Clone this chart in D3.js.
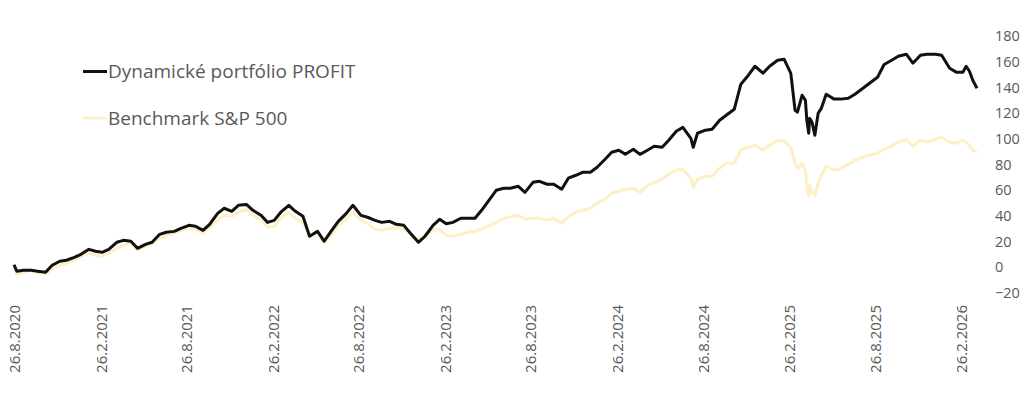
<!DOCTYPE html>
<html>
<head>
<meta charset="utf-8">
<script src="https://cdn.jsdelivr.net/npm/d3@7"></script>
<style>
  html, body { margin: 0; padding: 0; background: #ffffff; }
  svg { display: block; }
</style>
</head>
<body>
<svg id="chart" width="1024" height="407"></svg>
<script>
// ---- data ----
const seriesNames = ["Dynamické portfólio PROFIT", "Benchmark S&P 500"];

const dates = [
  "2020-08-26","2020-09-01","2020-09-15","2020-10-01","2020-10-15","2020-11-01","2020-11-15","2020-12-01","2020-12-15",
  "2021-01-01","2021-01-15","2021-02-01","2021-02-15","2021-03-01","2021-03-15","2021-04-01","2021-04-15","2021-05-01","2021-05-15","2021-06-01","2021-06-15",
  "2021-07-01","2021-07-15","2021-08-01","2021-08-15","2021-09-01","2021-09-15","2021-10-01","2021-10-15","2021-11-01","2021-11-15","2021-12-01","2021-12-15",
  "2022-01-01","2022-01-15","2022-02-01","2022-02-15","2022-03-01","2022-03-15","2022-04-01","2022-04-15","2022-05-01","2022-05-15","2022-06-01","2022-06-15",
  "2022-07-01","2022-07-15","2022-08-01","2022-08-15","2022-09-01","2022-09-15","2022-10-01","2022-10-15","2022-11-01","2022-11-15","2022-12-01","2022-12-15",
  "2023-01-01","2023-01-15","2023-02-01","2023-02-15","2023-03-01","2023-03-15","2023-04-01","2023-04-15","2023-05-01","2023-05-15","2023-06-01","2023-06-15",
  "2023-07-01","2023-07-15","2023-08-01","2023-08-15","2023-09-01","2023-09-15","2023-10-01","2023-10-15","2023-11-01","2023-11-15","2023-12-01","2023-12-15",
  "2024-01-01","2024-01-15","2024-02-01","2024-02-15","2024-03-01","2024-03-15","2024-04-01","2024-04-15","2024-05-01","2024-05-15","2024-06-01","2024-06-15",
  "2024-07-01","2024-07-15","2024-08-01","2024-08-06","2024-08-15","2024-09-01","2024-09-15","2024-10-01","2024-10-15","2024-11-01","2024-11-15","2024-12-01","2024-12-15",
  "2025-01-01","2025-01-15","2025-02-01","2025-02-15","2025-03-01","2025-03-10","2025-03-15","2025-03-25","2025-04-01","2025-04-04","2025-04-08","2025-04-10",
  "2025-04-15","2025-04-21","2025-04-28","2025-05-05","2025-05-15","2025-06-01","2025-06-15","2025-07-01","2025-07-15","2025-08-01","2025-08-15",
  "2025-09-01","2025-09-15","2025-10-01","2025-10-15","2025-11-01","2025-11-15","2025-12-01","2025-12-15",
  "2026-01-01","2026-01-15","2026-02-01","2026-02-15","2026-03-01","2026-03-08","2026-03-15","2026-03-22","2026-03-31"
];

const profit = [
  2, -3, -2.3, -2.3, -3.1, -3.9, 1.6, 4.7, 5.5,
  7.8, 10.1, 14, 12.5, 11.7, 14, 19.5, 21, 20.3, 14.8, 17.9, 19.5,
  25.7, 27.3, 28, 30.4, 32.7, 32, 28.8, 33.5, 42, 46, 43.6, 48.3,
  49, 44.4, 40.5, 35, 36.6, 42.9, 48.3, 43.6, 39.7, 24.2, 28, 20.3,
  28.8, 35.8, 42, 48.3, 40.5, 39, 36.6, 35, 35.8, 33.5, 32.7, 26.5,
  19.5, 24.2, 32.7, 37.4, 33.9, 35, 38.2, 38.2, 38.2, 44.4, 53, 60,
  61.6, 61.6, 63.1, 58.4, 66.2, 67, 64.7, 64.7, 60.8, 69.4, 71.7, 74,
  74, 77.9, 84.2, 89.6, 91.2, 88, 92, 88, 91.2, 94.3, 93.5, 99,
  106, 109, 100.5, 93.5, 104.4, 106.8, 107.5, 114.5, 118.4, 123.1, 142.6, 149.6, 156.6,
  151.2, 156.6, 161.3, 162, 151, 122.3, 120.8, 134, 130, 114.5, 104.4, 116,
  113, 102.9, 120, 124, 134.8, 131, 131, 131.7, 134.8, 139.5, 143.4,
  148, 158, 161.3, 164.4, 166, 159, 165.2, 166,
  166, 165.2, 155, 152, 152, 156.6, 152.7, 145.7, 139.5
];

const benchmark = [
  1.5, -5.5, -3.9, -2.3, -3.9, -5.5, -0.8, 1.6, 3.1,
  5.5, 8.6, 10.9, 9.4, 8.6, 10.9, 14.8, 17.1, 18.7, 13.2, 16.4, 18.7,
  22.6, 25, 26.5, 28.8, 30.4, 29.6, 26.5, 31.2, 36.6, 40.5, 39.7, 42.9,
  45.2, 40.5, 36.6, 31.2, 31.9, 38.2, 42.9, 38.2, 34.3, 24.2, 27.3, 18.7,
  25.7, 32.7, 38.2, 42.9, 36.6, 34.3, 29.6, 28.8, 30.4, 30.4, 30.4, 25.7,
  21, 25.7, 28.8, 29.6, 25, 24.2, 25.7, 27.3, 28, 29.6, 32.7, 35,
  38.2, 39.3, 40.5, 37.4, 38.2, 38.2, 36.6, 38.2, 34.3, 39.7, 42.9, 44.4,
  46, 49.9, 53, 57.7, 59.2, 60.8, 61.6, 58.4, 63.9, 66.2, 68.6, 72.5,
  75.6, 76.4, 69.4, 62, 68.6, 70.9, 70.9, 77.1, 81, 81, 91.2, 93.5, 95.1,
  91.2, 95.1, 99, 98.2, 93.5, 81, 77, 81, 75.6, 63.9, 55.3, 63.9,
  58.4, 56.1, 65.5, 71.7, 78.7, 75.6, 77.1, 80.3, 83.4, 85.7, 87.3,
  88.8, 92, 94.3, 97.4, 99.7, 94.3, 99, 97.4,
  99.7, 101.3, 97.4, 96.6, 99, 97.4, 95, 91.2, 89.6
];

const xTickDates = ["2020-08-26","2021-02-26","2021-08-26","2022-02-26","2022-08-26","2023-02-26",
                    "2023-08-26","2024-02-26","2024-08-26","2025-02-26","2025-08-26","2026-02-26"];
const xTickLabels = ["26.8.2020","26.2.2021","26.8.2021","26.2.2022","26.8.2022","26.2.2023",
                     "26.8.2023","26.2.2024","26.8.2024","26.2.2025","26.8.2025","26.2.2026"];
const yTicks = [-20, 0, 20, 40, 60, 80, 100, 120, 140, 160, 180];

// ---- drawing ----
const parse = d3.timeParse("%Y-%m-%d");
const svg = d3.select("#chart");
const FONT = "'Open Sans', 'Noto Sans', sans-serif";
const TEXT_COLOR = "#595959";
const COLORS = ["#111111", "#fdefc6"];

const x = d3.scaleTime()
  .domain([parse(dates[0]), parse(dates[dates.length - 1])])
  .range([14, 977]);
const y = d3.scaleLinear().domain([-20, 180]).range([293, 36.2]);

const rows = dates.map((d, i) => ({ date: parse(d), p: profit[i], b: benchmark[i] }));

// right value axis (labels only)
const yAxis = svg.append("g")
  .attr("transform", "translate(995,0)")
  .call(d3.axisRight(y).tickValues(yTicks).tickSize(0).tickPadding(0).tickFormat(d3.format("d")));
yAxis.select(".domain").remove();
yAxis.selectAll("text")
  .attr("fill", TEXT_COLOR)
  .style("font-family", FONT)
  .style("font-size", "14.5px");

// date axis (rotated labels only)
const xAxis = svg.append("g")
  .attr("transform", "translate(0,305)")
  .call(d3.axisBottom(x)
    .tickValues(xTickDates.map(parse))
    .tickSize(0)
    .tickFormat((d, i) => xTickLabels[i]));
xAxis.select(".domain").remove();
xAxis.selectAll("text")
  .attr("transform", "rotate(-90)")
  .attr("x", 0)
  .attr("y", 0)
  .attr("dy", "0.36em")
  .style("text-anchor", "end")
  .attr("fill", TEXT_COLOR)
  .style("font-family", FONT)
  .style("font-size", "15px");

// lines
const lineB = d3.line().x(d => x(d.date)).y(d => y(d.b));
const lineP = d3.line().x(d => x(d.date)).y(d => y(d.p));

svg.append("path").datum(rows)
  .attr("d", lineB)
  .attr("fill", "none")
  .attr("stroke", COLORS[1])
  .attr("stroke-width", 3)
  .attr("stroke-linejoin", "round");

svg.append("path").datum(rows)
  .attr("d", lineP)
  .attr("fill", "none")
  .attr("stroke", COLORS[0])
  .attr("stroke-width", 3)
  .attr("stroke-linejoin", "round");

// legend
const legendRows = [{ y: 71.5, base: 78 }, { y: 118, base: 124.5 }];
seriesNames.forEach((name, i) => {
  const g = svg.append("g");
  g.append("line")
    .attr("x1", 83).attr("x2", 107)
    .attr("y1", legendRows[i].y).attr("y2", legendRows[i].y)
    .attr("stroke", COLORS[i]).attr("stroke-width", 3);
  g.append("text")
    .attr("x", 108).attr("y", legendRows[i].base)
    .attr("fill", TEXT_COLOR)
    .style("font-family", FONT)
    .style("font-size", "19px")
    .text(name);
});
</script>
</body>
</html>
